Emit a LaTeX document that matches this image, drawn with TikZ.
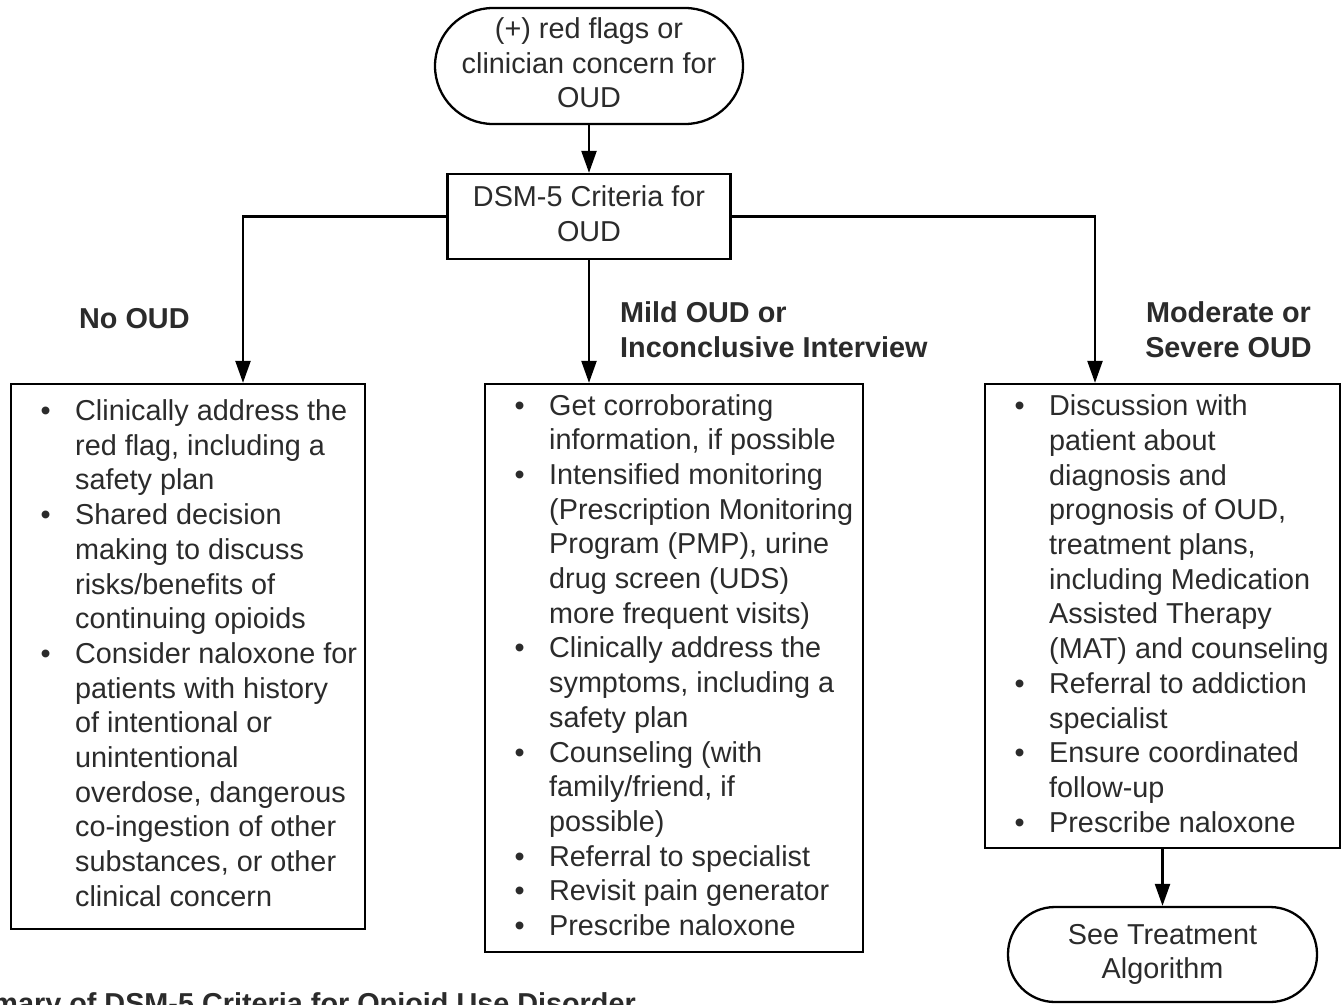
\documentclass[tikz,border=0pt]{standalone}
\usepackage{fontspec}
\setmainfont{Liberation Sans}
\usetikzlibrary{arrows.meta}
\definecolor{txt}{HTML}{2B2B2B}
\newcommand\fsz{\fontsize{28.8pt}{34.7pt}\selectfont}
\newcommand\bodysetup{\raggedright\parskip=0pt\parindent=0pt\relax}
\newcommand\myitem[1]{\par\noindent\hangindent=34.5pt\hangafter=1\makebox[34.5pt][l]{\textbullet}#1\par}
\newcommand\lift{\rule[-6.5pt]{0pt}{6.5pt}}
\begin{document}
\begin{tikzpicture}[x=1pt,y=-1pt,
  box/.style={draw=black, line width=2.3pt, rectangle, inner sep=0pt},
  term/.style={draw=black, line width=2.3pt, rectangle, inner sep=0pt, align=center, font=\fsz, text=txt},
  lbl/.style={font=\fsz\bfseries, text=txt, inner sep=0pt},
  body/.style={font=\fsz, text=txt, inner sep=0pt, anchor=base west},
  arr/.style={line width=2.3pt, -{Triangle[length=22pt,width=15pt]}}]
\useasboundingbox (0,0) rectangle (1343,1004);
\fill[white] (0,0) rectangle (1343,1004);

% terminals and decision box
\node[term, rounded corners=58pt, minimum width=308pt, minimum height=116pt] (start) at (589,66)
  {(+) red flags or\\clinician concern for\\OUD\lift};
\node[box, minimum width=283pt, minimum height=85pt, align=center, font=\fsz, text=txt] (dsm) at (589,216.5)
  {DSM-5 Criteria for\\OUD\lift};

% outcome boxes
\node[box, minimum width=354pt, minimum height=545pt] (lbox) at (188,656.5) {};
\node[box, minimum width=378pt, minimum height=568pt] (mbox) at (674,668) {};
\node[box, minimum width=355pt, minimum height=464pt] (rbox) at (1162.5,616) {};
\node[term, rounded corners=47pt, minimum width=309pt, minimum height=95pt] (end) at (1162.5,954.5)
  {See Treatment\\Algorithm};

% connectors
\coordinate (lx) at (243,0);
\coordinate (rx) at (1095,0);
\draw[arr] (start.south) -- (dsm.north);
\draw[arr] (dsm.west) -| (lx |- lbox.north);
\draw[arr] (dsm.south) -- (dsm.south |- mbox.north);
\draw[arr] (dsm.east) -| (rx |- rbox.north);
\draw[arr] (rbox.south) -- (end.north);

% branch labels
\node[lbl, anchor=base west] (noL) at (79,328) {No OUD};
\node[lbl, anchor=base west] (mildL) at (620,322.5)
  {\parbox[t]{400pt}{\raggedright Mild OUD or\\Inconclusive Interview}};
\node[lbl, anchor=base] (modL) at (1228.5,322.5)
  {\parbox[t]{300pt}{\centering Moderate or\\Severe OUD}};

% box contents
\node[body] (ltxt) at (40.5,420.5) {\parbox[t]{340pt}{\bodysetup
  \myitem{Clinically address the\newline red flag, including a\newline safety plan}
  \myitem{Shared decision\newline making to discuss\newline risks/benefits of\newline continuing opioids}
  \myitem{Consider naloxone for\newline patients with history\newline of intentional or\newline unintentional\newline overdose, dangerous\newline co-ingestion of other\newline substances, or other\newline clinical concern}}};

\node[body] (mtxt) at (514.5,415) {\parbox[t]{370pt}{\bodysetup
  \myitem{Get corroborating\newline information, if possible}
  \myitem{Intensified monitoring\newline (Prescription Monitoring\newline Program (PMP), urine\newline drug screen (UDS)\newline more frequent visits)}
  \myitem{Clinically address the\newline symptoms, including a\newline safety plan}
  \myitem{Counseling (with\newline family/friend, if\newline possible)}
  \myitem{Referral to specialist}
  \myitem{Revisit pain generator}
  \myitem{Prescribe naloxone}}};

\node[body] (rtxt) at (1014.5,415.7) {\parbox[t]{340pt}{\bodysetup
  \myitem{Discussion with\newline patient about\newline diagnosis and\newline prognosis of OUD,\newline treatment plans,\newline including Medication\newline Assisted Therapy\newline (MAT) and counseling}
  \myitem{Referral to addiction\newline specialist}
  \myitem{Ensure coordinated\newline follow-up}
  \myitem{Prescribe naloxone}}};

% caption (cut off by the page edge, as in the reference)
\begin{scope}
\clip (0,0) rectangle (1343,1004);
\node[lbl, anchor=base east] (cap) at (636,1013) {Summary of DSM-5 Criteria for Opioid Use Disorder};
\end{scope}
\end{tikzpicture}
\end{document}
